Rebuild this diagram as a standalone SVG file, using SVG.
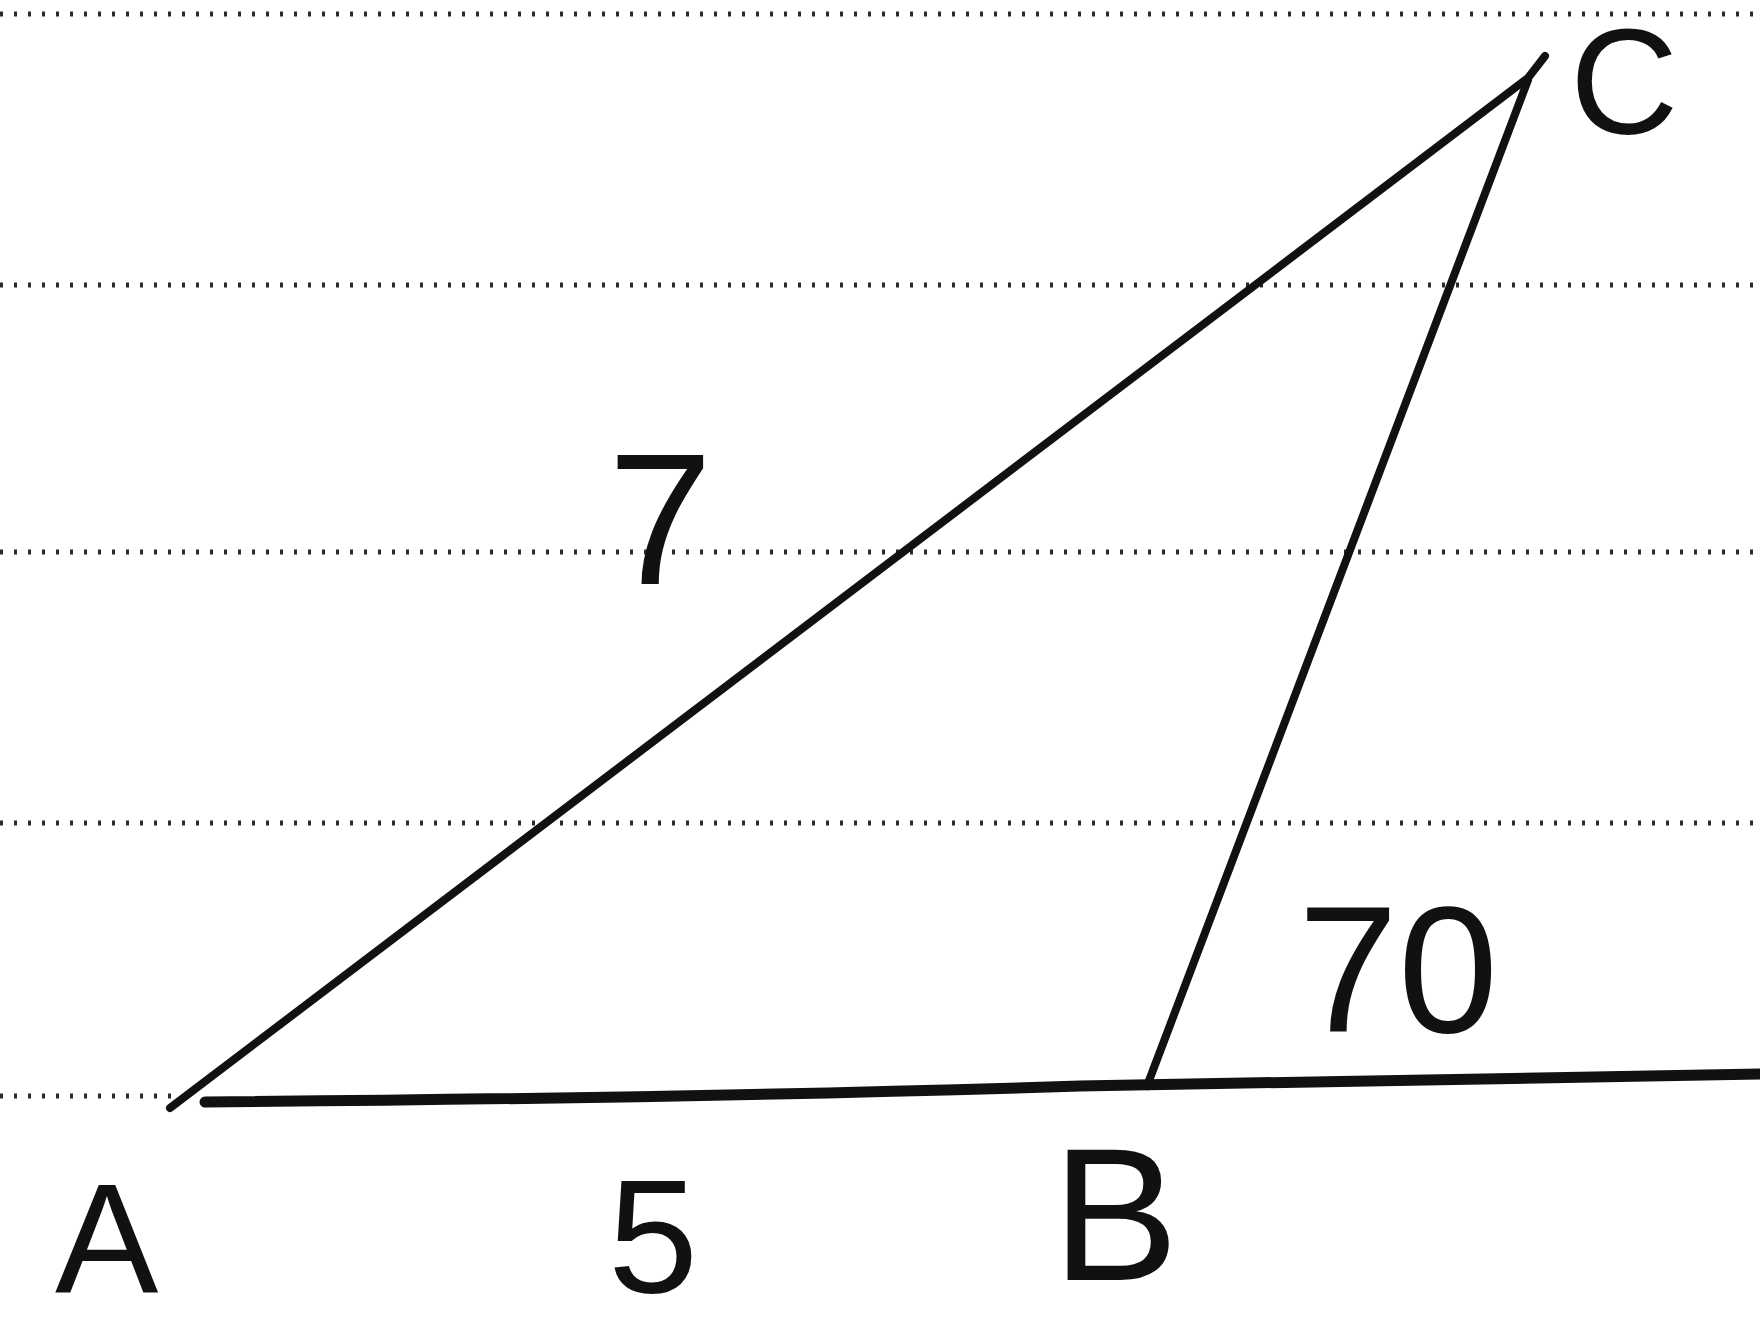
<svg xmlns="http://www.w3.org/2000/svg" width="1760" height="1327" viewBox="0 0 1760 1327">
<style>
.dot{stroke:#2a2a2a;stroke-width:5;stroke-dasharray:3 11;fill:none}
.ln{stroke:#111;fill:none;stroke-linecap:round;stroke-linejoin:round}
.lbl{font-family:"Liberation Sans",Arial,sans-serif;fill:#111}
</style>
<rect width="1760" height="1327" fill="#fff"/>
<g id="ruling">
<line class="dot" x1="0" y1="14" x2="1760" y2="14"/>
<line class="dot" x1="0" y1="285" x2="1760" y2="285"/>
<line class="dot" x1="0" y1="552" x2="1760" y2="552"/>
<line class="dot" x1="0" y1="823" x2="1760" y2="823"/>
<line class="dot" x1="0" y1="1096" x2="180" y2="1096"/>
</g>
<g id="connectors">
<path class="ln" stroke-width="11" d="M205 1102 Q700 1098 1080 1086 Q1400 1080 1760 1074"/>
<path class="ln" stroke-width="8" d="M170 1108 L1528 78 L1545 56"/>
<path class="ln" stroke-width="8" d="M1147 1086 L1528 80"/>
</g>
<g id="labels">
<text class="lbl" x="1570" y="134" font-size="150">C</text>
<text class="lbl" x="608" y="584" font-size="188">7</text>
<text class="lbl" x="1298" y="1032" font-size="180">70</text>
<text class="lbl" x="55" y="1292" font-size="155">A</text>
<text class="lbl" x="608" y="1292" font-size="162">5</text>
<text class="lbl" x="1052" y="1280" font-size="190">B</text>
</g>
</svg>
